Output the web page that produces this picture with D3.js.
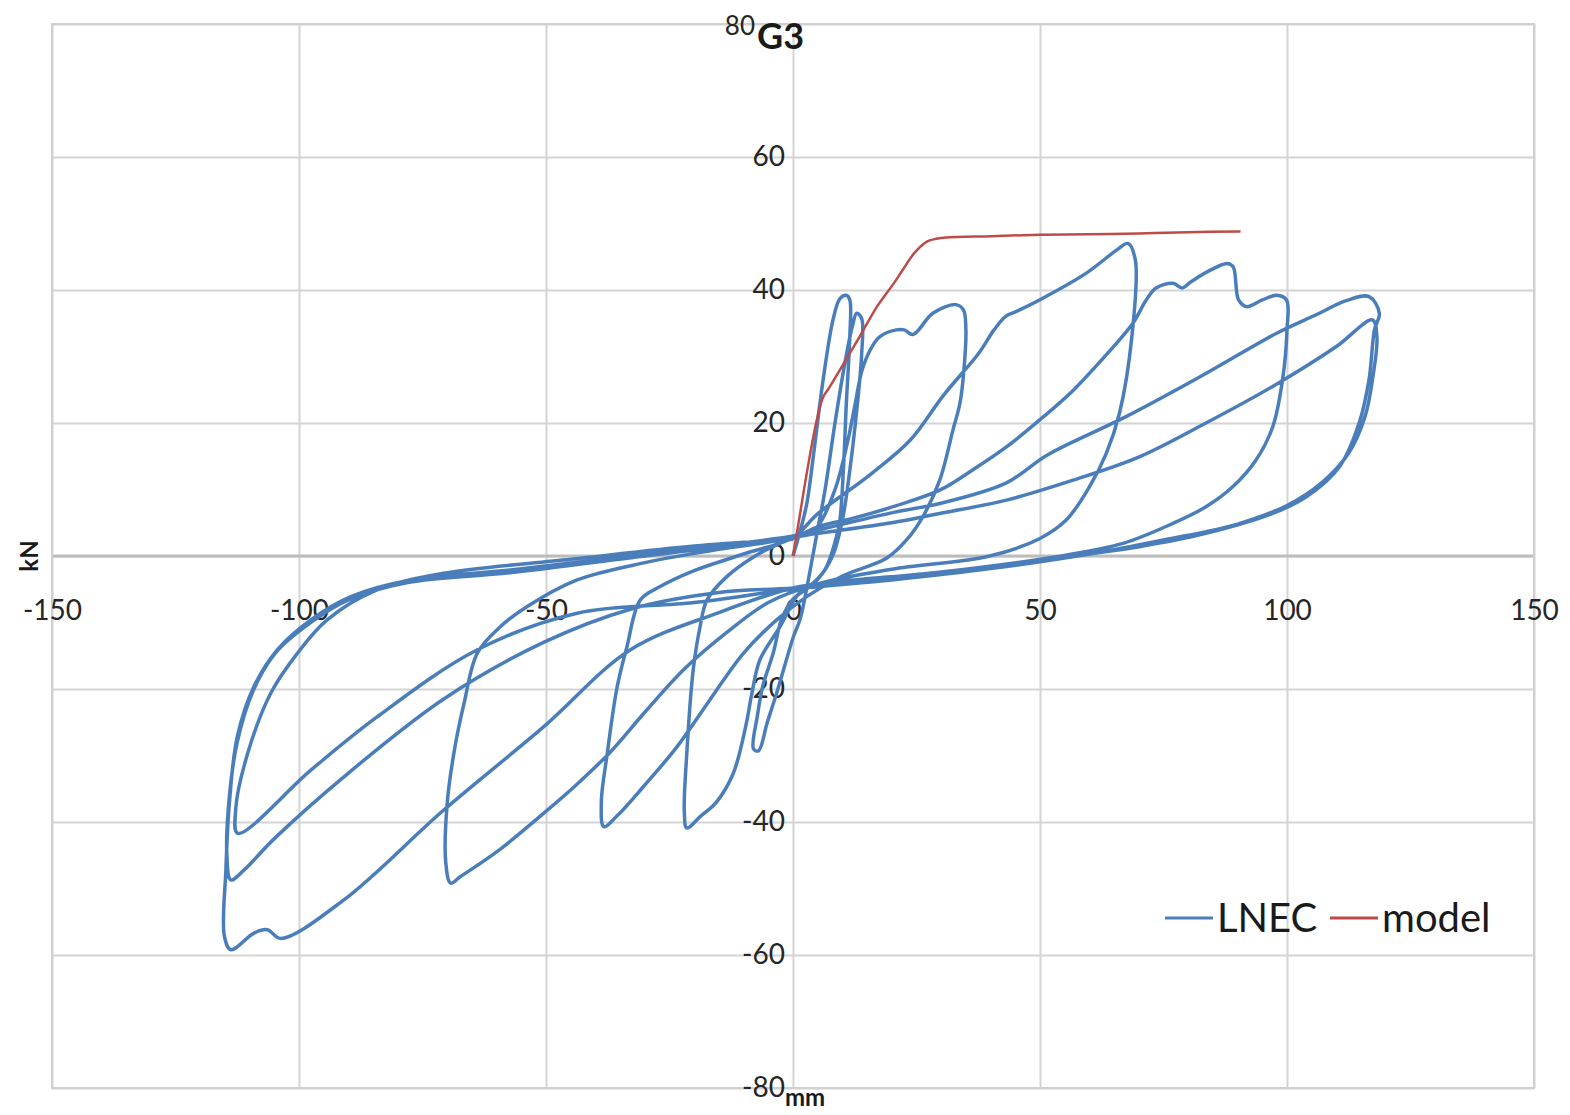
<!DOCTYPE html>
<html>
<head>
<meta charset="utf-8">
<script src="https://cdn.jsdelivr.net/npm/d3@7"></script>
<style>
  body { margin: 0; background: #fff; }
  svg { display: block; font-family: Lato, "Open Sans", sans-serif; }
</style>
</head>
<body>
<svg id="chart" width="1570" height="1115"></svg>
<script>
// axis ticks
const xTicks = [-150, -100, -50, 0, 50, 100, 150];
const yTicks = [-80, -60, -40, -20, 0, 20, 40, 60, 80];

// LNEC test (mm, kN)
const cycle1 = [[0, 0], [1.5, 3.9], [2.8, 7.9], [4.1, 14.9], [6.1, 26.5], [8.1, 35.5], [9.5, 38.7], [10.8, 39.2],
  [11.5, 38.5], [11.5, 33], [10.8, 23], [10.2, 13], [9.5, 5.4], [8.8, 2.9], [6.5, -2], [3, -4.8], [0, -6.5],
  [-2.3, -9.5], [-4, -14.6], [-6.1, -19.5], [-7.2, -24], [-8, -29], [-7, -29.3], [-5.2, -25], [-3.3, -20.6],
  [0.1, -12.1], [1.4, -9.6], [3, -4], [4, 0]];
const cycle2 = [[5, 4], [6.5, 10], [8.5, 20], [10.5, 29], [12, 34.5], [12.9, 36.5], [13.9, 35.7], [13.9, 30.4],
  [12.9, 21.9], [11.5, 12.9], [10, 5.4], [8, 0], [5, -3.5], [1, -5.8], [-2.6, -10.6], [-6.7, -15.6],
  [-8.3, -20.6], [-9.6, -25.7], [-12.1, -32.7], [-15.5, -37], [-18.8, -39.2], [-21.5, -40.9], [-22, -38.5],
  [-21.5, -29.7], [-20.2, -17.1], [-18.8, -10.6], [-17.4, -6.6], [-13.4, -3.1], [-7.9, -0.1], [-3, 1.8], [2, 3.2]];
const cycle3 = [[5, 4.5], [8.5, 10], [11, 17], [12.5, 22.5], [14, 28], [16, 31.5], [17.6, 33], [20.9, 34],
  [22.5, 34], [24.3, 33.3], [28.3, 36.5], [33, 37.8], [34.5, 37], [35, 34], [34.6, 28], [33.8, 23],
  [32.4, 19], [29.7, 11.4], [26.5, 6.2], [23.2, 2.6], [19, -0.3], [10, -3], [3, -6], [-3.3, -9.6], [-10, -14.6],
  [-16.8, -21.6], [-23.5, -28.7], [-30.3, -34.7], [-35.5, -39], [-38.3, -40.7], [-38.8, -37], [-37.6, -29.7],
  [-35.6, -19.7], [-33.6, -13.6], [-30.9, -6.6], [-26.9, -4.6], [-20, -2.2], [-10, 0.3], [0, 2.8]];
const cycle4 = [[5.1, 6.4], [15.9, 12.4], [23.7, 17.4], [30.5, 24.2], [37.6, 30.5], [40.7, 34], [43, 36],
  [45.3, 36.8], [49.9, 38.5], [59.3, 42.5], [65.5, 46], [67.8, 47], [69.3, 44.5], [68.6, 33], [66.1, 21.5],
  [63.4, 15.4], [60, 10.4], [55.3, 5.4], [49.9, 2.6], [39.8, 0], [20, -2], [5, -4.2], [-5, -7], [-13.4, -11.5],
  [-22, -17], [-30, -23.5], [-37, -29.5], [-44, -34.5], [-50.5, -38.7], [-60, -44.5], [-67.3, -48.2],
  [-69.3, -49.2], [-70.3, -46], [-70, -37.2], [-68.5, -29], [-66.6, -22.2], [-63.9, -14.6], [-59.2, -10.6],
  [-53.8, -7.6], [-43.7, -3.6], [-30, -1], [-15, 1], [0, 2.8]];
const cycle5 = [[5.1, 4.4], [12.8, 5.8], [20.6, 7.5], [29.7, 9.9], [36.5, 13], [43.2, 16.4], [50, 20.5],
  [56.7, 24.9], [62.5, 29.5], [68.8, 35], [71.5, 38.5], [73.5, 40.3], [76.9, 41], [78.8, 40.3], [80.5, 41.2],
  [84, 42.8], [87.9, 44], [89.1, 43.5], [90.2, 38.5], [91.8, 37.5], [95, 38.5], [97.9, 39.2], [99.9, 38.5],
  [100, 34], [99.1, 26.5], [97.1, 19.4], [93.7, 14.4], [89, 10.4], [83.6, 7.4], [76.9, 4.9], [66.8, 1.9],
  [53.3, -0.1], [30, -2.4], [10, -3.8],
  [0, -4.8], [-15, -8.5], [-32.9, -14.1], [-50.5, -25.7], [-70.7, -38.2], [-90.9, -51.7], [-103.7, -57.5],
  [-106.4, -56.2], [-109.1, -56.7], [-113.8, -59.2], [-115.1, -57.2], [-114.8, -47.2], [-114.1, -37.2],
  [-112.5, -27.2], [-109.1, -19.6], [-104.4, -14.1], [-97.6, -9.6], [-89.5, -6.1], [-77.4, -3.6],
  [-57.2, -2.1], [-30, 0.3], [-10, 2], [0, 3]];
const cycle6 = [[5.1, 3.9], [20.6, 6.6], [29.7, 7.9], [43.2, 11], [51.5, 15.2], [67, 20.8], [82.5, 27], [97.9, 33.5],
  [105.7, 36.2], [112, 38.4], [116.6, 39], [118.7, 36.5], [117.7, 34], [116.6, 26.5], [114.6, 20], [110.6, 13.4],
  [103.9, 8.9], [97.1, 6.4], [83.6, 3.4], [70.1, 1.4], [56.7, 0], [40, -1.8], [20, -3.3], [0, -4.8], [-15, -5.5],
  [-32.9, -8], [-50.5, -13], [-70.7, -21.5], [-90.9, -33.2], [-105, -42.5], [-111.1, -47.2], [-113.8, -48.7],
  [-114.6, -45], [-114.2, -37], [-112.5, -28], [-109.3, -20.3], [-104.8, -14.6], [-98, -10.2], [-90, -6.6],
  [-78, -4], [-57, -2.5], [-30, 0], [-10, 1.8], [0, 2.8]];
const cycle7 = [[5.1, 3.4], [20, 5], [29.7, 6.4], [43.2, 8.4], [56.7, 11.4], [70.1, 14.9], [83.6, 20],
  [97.1, 25.5], [110, 31.5], [117.3, 35.5], [118.2, 33], [117.4, 27], [115.8, 21], [112.5, 15.5],
  [107, 11], [100, 7.6], [90, 4.8], [75, 2.4], [60, 0.3], [40, -1.9], [20, -3.6], [0, -5], [-20, -7], [-43.7, -8.6],
  [-63.9, -14.1], [-84.2, -24.2], [-97.6, -32.2], [-112.4, -41.7], [-112.8, -38], [-110.4, -29.7],
  [-105.7, -20.6], [-100.3, -14.6], [-94.3, -9.6], [-84.2, -5.1], [-70.7, -2.6], [-45, -0.5], [-20, 1.5], [0, 2.5]];

// model curve
const modelX = [0, 1, 2.8, 4.8, 6.1, 7.5, 9.5, 11.5, 13.5, 17, 20.4, 22.2, 24.5, 27.2, 29, 31, 40, 50, 60, 70, 80, 90.6];
const modelY = [0, 4.4, 12.5, 20.4, 23.9, 25.5, 28, 30.5, 33, 37.5, 41, 43, 45.5, 47.3, 47.7, 47.9, 48.1, 48.3, 48.4, 48.5, 48.7, 48.8];

const lnec = [].concat(cycle1, cycle2, cycle3, cycle4, cycle5, cycle6, cycle7);
const model = modelX.map((d, i) => [d, modelY[i]]);

const plot = { left: 52, right: 1534, top: 24, bottom: 1088 };
const plotW = plot.right - plot.left, plotH = plot.bottom - plot.top;

const svg = d3.select("#chart");

const x = d3.scaleLinear().domain([-150, 150]).range([plot.left, plot.right]);
const y = d3.scaleLinear().domain([-80, 80]).range([plot.bottom, plot.top]);

// gridlines
svg.append("g")
  .attr("transform", `translate(0,${plot.bottom})`)
  .call(d3.axisBottom(x).tickValues(xTicks).tickSize(-plotH).tickFormat(""))
  .call(g => g.select(".domain").remove())
  .selectAll("line").attr("stroke", "#d4d4d4").attr("stroke-width", 2);

svg.append("g")
  .attr("transform", `translate(${plot.left},0)`)
  .call(d3.axisLeft(y).tickValues(yTicks).tickSize(-plotW).tickFormat(""))
  .call(g => g.select(".domain").remove())
  .selectAll("line").attr("stroke", "#d4d4d4").attr("stroke-width", 2);

// zero line a bit darker
svg.append("line")
  .attr("x1", plot.left).attr("x2", plot.right)
  .attr("y1", y(0)).attr("y2", y(0))
  .attr("stroke", "#bdbdbd").attr("stroke-width", 3);

// frame
svg.append("rect")
  .attr("x", plot.left).attr("y", plot.top)
  .attr("width", plotW).attr("height", plotH)
  .attr("fill", "none").attr("stroke", "#d0d0d0").attr("stroke-width", 2);

// y labels sit by the vertical axis at x = 0
const yLab = svg.append("g")
  .attr("transform", `translate(${x(0) - 6},0)`)
  .call(d3.axisLeft(y).tickValues(yTicks.filter(d => d !== 80)).tickSize(0).tickPadding(2).tickFormat(d => String(d)));
yLab.select(".domain").remove();
yLab.selectAll("text").attr("font-size", 28).attr("fill", "#262626").attr("font-family", "Lato, sans-serif");

// the top label is squeezed next to the title
svg.append("text")
  .attr("x", 755).attr("y", 35)
  .attr("text-anchor", "end")
  .attr("font-size", 26).attr("fill", "#262626")
  .text("80");

// x labels under the horizontal axis at y = 0
const xLab = svg.append("g")
  .attr("transform", `translate(0,${y(0)})`)
  .call(d3.axisBottom(x).tickValues(xTicks).tickSize(0).tickPadding(44).tickFormat(d => String(d)));
xLab.select(".domain").remove();
xLab.selectAll("text").attr("font-size", 28).attr("fill", "#262626").attr("font-family", "Lato, sans-serif");

// lines
const line = d3.line()
  .x(d => x(d[0]))
  .y(d => y(d[1]))
  .curve(d3.curveCatmullRom.alpha(0.5));

svg.append("path")
  .datum(lnec)
  .attr("d", line)
  .attr("fill", "none")
  .attr("stroke", "#4a7ebb")
  .attr("stroke-width", 3.5)
  .attr("stroke-linejoin", "round");

svg.append("path")
  .datum(model)
  .attr("d", line)
  .attr("fill", "none")
  .attr("stroke", "#be4b48")
  .attr("stroke-width", 2.5);

// title and axis names
svg.append("text")
  .attr("x", 757).attr("y", 49)
  .attr("font-size", 36).attr("font-weight", "bold").attr("fill", "#1a1a1a")
  .text("G3");

svg.append("text")
  .attr("transform", `translate(38,${y(0)}) rotate(-90)`)
  .attr("text-anchor", "middle")
  .attr("font-size", 24).attr("font-weight", "bold").attr("fill", "#1a1a1a")
  .text("kN");

svg.append("text")
  .attr("x", 805).attr("y", 1106)
  .attr("text-anchor", "middle")
  .attr("font-size", 24).attr("font-weight", "bold").attr("fill", "#1a1a1a")
  .text("mm");

// legend
const legend = svg.append("g").attr("transform", "translate(1165,918)");
const items = [
  { name: "LNEC", color: "#4a7ebb", x0: 0 },
  { name: "model", color: "#be4b48", x0: 165 }
];
items.forEach(it => {
  legend.append("line")
    .attr("x1", it.x0).attr("x2", it.x0 + 48)
    .attr("y1", 0).attr("y2", 0)
    .attr("stroke", it.color).attr("stroke-width", 3);
  legend.append("text")
    .attr("x", it.x0 + 52).attr("y", 14)
    .attr("font-size", 40).attr("fill", "#1a1a1a")
    .text(it.name);
});
</script>
</body>
</html>
